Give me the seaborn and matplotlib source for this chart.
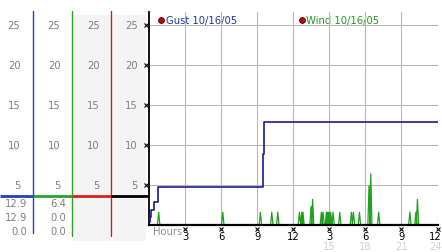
import numpy as np
import pandas as pd
import matplotlib
matplotlib.use("Agg")
import matplotlib.pyplot as plt
import matplotlib.transforms as mtrans
import seaborn as sns

# ---------------- data ----------------
series_names = ["Gust 10/16/05", "Wind 10/16/05"]
gust_hours = [0.04, 0.06, 0.12, 0.40, 0.76, 9.44, 9.53, 24.0]
gust_mph = [0.4, 0.95, 1.9, 2.9, 4.8, 8.9, 12.9, 12.9]

wind_spike_hours = [0.78, 6.12, 9.25, 10.2, 10.7, 12.5, 12.7, 12.8, 13.47, 13.6,
                    14.33, 14.47, 14.75, 14.86, 14.97, 15.1, 15.3, 15.86, 16.83,
                    17.0, 17.5, 18.3, 18.44, 19.1, 21.7, 22.2, 22.33]
wind_spike_mph = [1.6, 1.6, 1.6, 1.6, 1.6, 1.6, 1.6, 1.6, 2.3, 3.2,
                  1.6, 1.6, 1.6, 1.6, 1.6, 1.6, 1.6, 1.6, 1.6,
                  1.6, 1.6, 4.9, 6.4, 1.6, 1.6, 1.6, 3.2]

y_ticks = [5, 10, 15, 20, 25]
x_ticks = [3, 6, 9, 12, 15, 18, 21, 24]
x_tick_labels = ["3", "6", "9", "12", "3", "6", "9", "12"]
x_tick_labels2 = ["", "", "", "", "15", "18", "21", "24"]
gust_readout = ["12.9", "12.9", "0.0"]
wind_readout = ["6.4", "0.0", "0.0"]

# ---------------- build tables ----------------
gust_df = pd.DataFrame({"hour": gust_hours, "mph": gust_mph})
wx, wy = [0.0], [0.0]
for t, h in zip(wind_spike_hours, wind_spike_mph):
    wx += [t - 0.1, t, t + 0.1]
    wy += [0.0, h, 0.0]
wx.append(24.0)
wy.append(0.0)
wind_df = pd.DataFrame({"hour": wx, "mph": wy})

# ---------------- style ----------------
sns.set_style("white")
plt.rcParams["font.family"] = ["DejaVu Sans"]
FS = 7.2
W, H = 442, 253
fig = plt.figure(figsize=(W / 100, H / 100), dpi=100)

# overlay axes in pixel coordinates (left panel)
ov = fig.add_axes([0, 0, 1, 1], zorder=0)
ov.set_xlim(0, W)
ov.set_ylim(H, 0)
ov.axis("off")

# main axes
x0, x1 = 149.3, 437.5
ytop, ybot = 13, 226
ax = fig.add_axes([x0 / W, (H - ybot) / H, (x1 - x0) / W, (ybot - ytop) / H], zorder=1)
ax.patch.set_alpha(0)
ax.set_xlim(0, 24)
ax.set_ylim(0, (ybot - ytop) / 8.0)

# grid
for v in y_ticks:
    ax.axhline(v, color="#b8b8b8", lw=0.8, zorder=0)
for v in x_ticks:
    ax.axvline(v, color="#b8b8b8", lw=0.8, zorder=0)

sns.lineplot(data=wind_df, x="hour", y="mph", ax=ax, color="#1fa01f", lw=0.9,
             sort=False, estimator=None, zorder=2)
sns.lineplot(data=gust_df, x="hour", y="mph", ax=ax, color="#1a1a8c", lw=1.2,
             drawstyle="steps-post", sort=False, estimator=None, zorder=3)

for s in ["top", "right"]:
    ax.spines[s].set_visible(False)
ax.spines["left"].set_color("black")
ax.spines["left"].set_linewidth(1.3)
ax.spines["bottom"].set_color("black")
ax.spines["bottom"].set_linewidth(1.6)
ax.set_xlabel("")
ax.set_ylabel("")
ax.set_yticks([])
ax.set_xticks(x_ticks)
ax.set_xticklabels(x_tick_labels, fontsize=FS, color="black")
ax.tick_params(axis="x", length=0, pad=4.5)
# nudge the last label so it stays inside the image
last_lab = ax.get_xticklabels()[-1]
last_lab.set_horizontalalignment("right")
last_lab.set_transform(last_lab.get_transform()
                       + mtrans.ScaledTranslation(4.5 / 100, 0, fig.dpi_scale_trans))

# tick "x" markers
tx = mtrans.blended_transform_factory(ax.transData, ov.transData)
ax.plot(x_ticks, [230] * len(x_ticks), ls="none", marker="x", ms=2.4, mew=0.8,
        color="black", transform=tx, clip_on=False)
for xv, lab in zip(x_ticks, x_tick_labels2):
    if lab:
        ha = "right" if xv == x_ticks[-1] else "center"
        off = 4.5 if xv == x_ticks[-1] else 0
        ax.text(xv, 247, lab, ha=ha, va="center",
                transform=tx + mtrans.ScaledTranslation(off / 100, 0, fig.dpi_scale_trans),
                fontsize=FS, color="#d0d0d0")
ax.text(153, 232, "Hours", transform=ov.transData, ha="left", va="center",
        fontsize=FS, color="#909090")

ty = mtrans.blended_transform_factory(ov.transData, ax.transData)
ax.plot([146] * len(y_ticks), y_ticks, ls="none", marker="x", ms=2.4, mew=0.8,
        color="black", transform=ty, clip_on=False)

# legend
legend_x = [161, 301.7]
legend_col = ["#1a3aa0", "#1f9a1f"]
for lx, name, c in zip(legend_x, series_names, legend_col):
    ov.plot([lx], [21], marker="o", ms=4.2, color="#cc0000", mec="#3a0000", mew=0.6)
    ov.text(lx + 4.5, 21, name, ha="left", va="center", fontsize=FS, color=c)

# ---------------- left panel ----------------
ov.add_patch(plt.Rectangle((73, 15.7), 38, 226, color="#f4f4f4", zorder=0, lw=0))
ov.add_patch(plt.Rectangle((113, 15.7), 32.5, 226, color="#f4f4f4", zorder=0, lw=0))
ov.plot([33.3, 33.3], [12, 234], color="#1f3fc0", lw=1.0)
ov.plot([72.3, 72.3], [12, 237], color="#2ea02e", lw=1.0)
ov.plot([111.3, 111.3], [12, 237], color="#c82020", lw=1.0)
sep_y = 196.7
ov.plot([0, 33.3], [sep_y, sep_y], color="#1f3fc0", lw=2.0, solid_capstyle="butt")
ov.plot([33.3, 72.3], [sep_y, sep_y], color="#2ea02e", lw=2.0, solid_capstyle="butt")
ov.plot([72.3, 111.3], [sep_y, sep_y], color="#d82020", lw=2.0, solid_capstyle="butt")
ov.plot([111.3, 149.3], [sep_y, sep_y], color="black", lw=2.0, solid_capstyle="butt")

col_right = [20.5, 60.5, 99.5, 138]
for xr in col_right:
    for v in y_ticks:
        ax.text(xr, v, str(v), transform=ty, ha="right", va="center",
                fontsize=FS, color="#808080")
read_y = [204, 218, 232]
for yv, g, w in zip(read_y, gust_readout, wind_readout):
    ov.text(27.5, yv, g, ha="right", va="center", fontsize=FS, color="#808080")
    ov.text(66, yv, w, ha="right", va="center", fontsize=FS, color="#808080")

fig.savefig("out.png", dpi=100)
